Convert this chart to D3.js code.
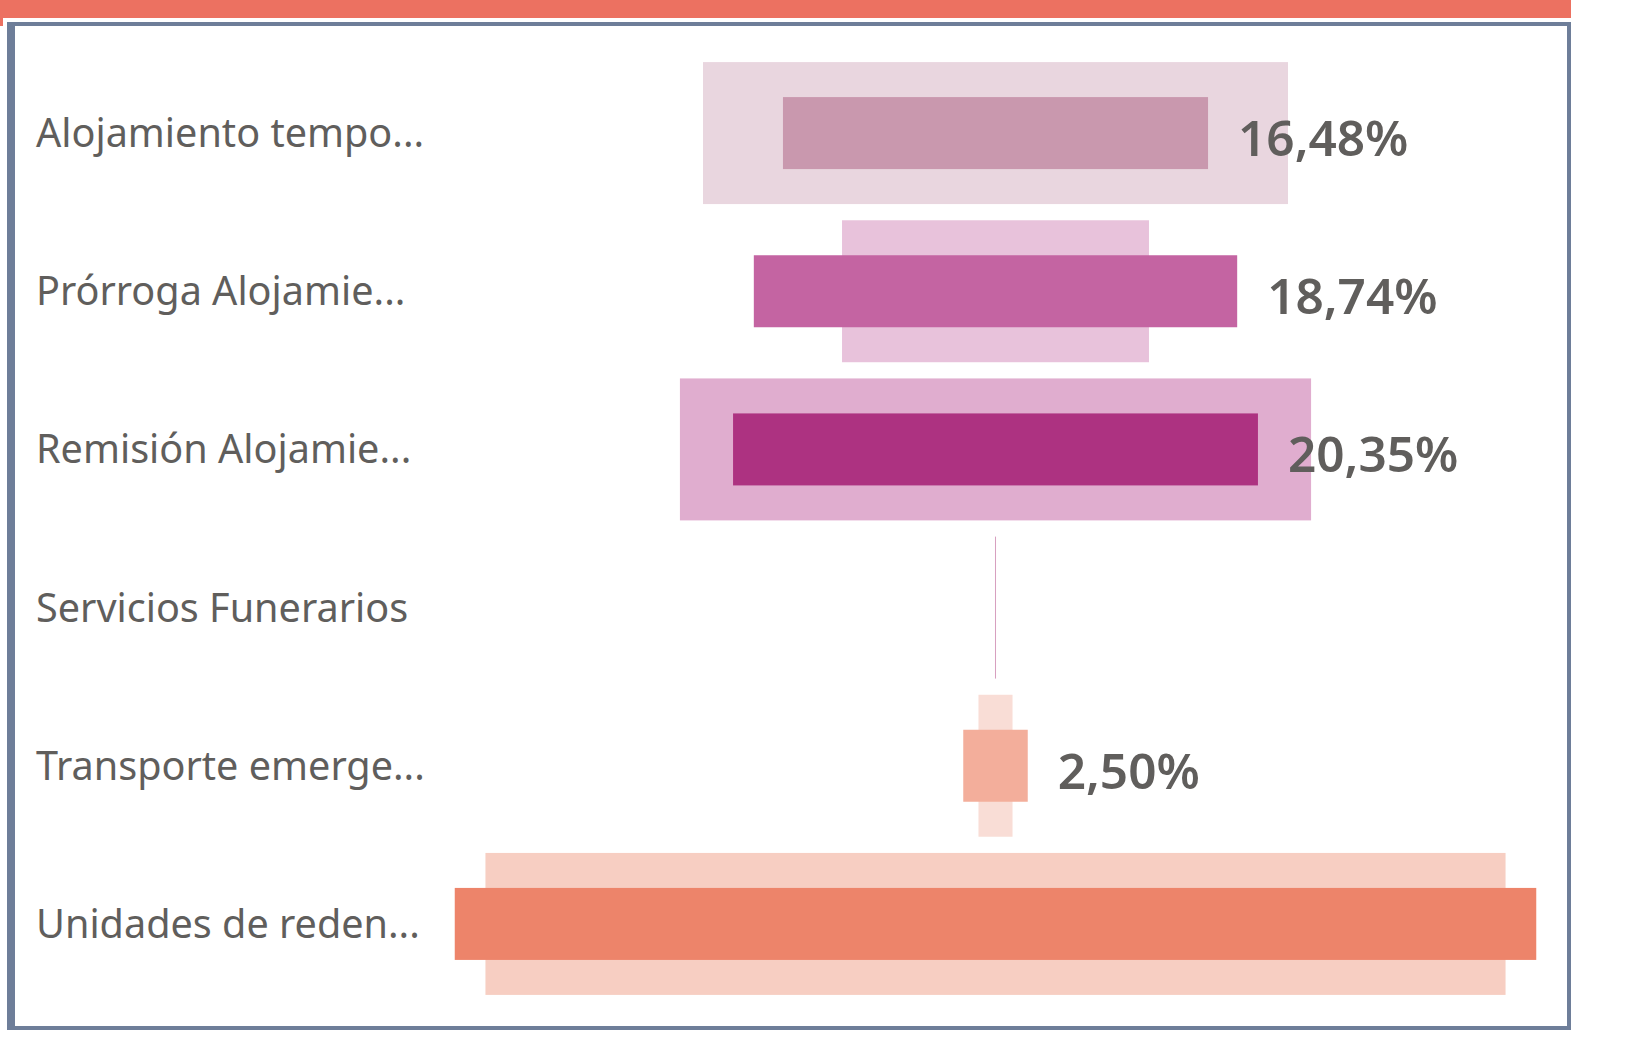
<!DOCTYPE html>
<html lang="es">
<head>
<meta charset="utf-8">
<title>Distribución por tipo de ayuda</title>
<script src="https://cdn.jsdelivr.net/npm/d3@7"></script>
<style>
  html, body { margin: 0; padding: 0; background: #ffffff; }
  svg { display: block; }
  .cat-label { font-family: "Segoe UI", "Noto Sans", sans-serif; font-size: 39.6px; fill: #605e5c; }
  .val-label { font-family: "Segoe UI", "Noto Sans", sans-serif; font-size: 49.5px; font-weight: 600; fill: #605e5c; }
</style>
</head>
<body>
<svg id="chart" width="1650" height="1038"></svg>
<script>
// Categories (as shown, truncated)
const categories = [
  "Alojamiento tempo...",
  "Prórroga Alojamie...",
  "Remisión Alojamie...",
  "Servicios Funerarios",
  "Transporte emerge...",
  "Unidades de reden..."
];
// Main measure (%), inner bars
const shareValues = [16.48, 18.74, 20.35, 0, 2.50, 41.93];
// Comparison measure (%), wide background bars
const compareValues = [22.68, 11.90, 24.47, 0.04, 1.32, 39.55];

const innerColors = ["#c998ae", "#c464a2", "#ad3281", "#c77aa8", "#f3ae9b", "#ed846a"];
const outerColors = ["#e9d6df", "#e8c2db", "#e0adcf", "#d7a0c0", "#f9ddd6", "#f7cec2"];

const svg = d3.select("#chart");

// Header strip and frame
svg.append("rect").attr("x", 0).attr("y", 0).attr("width", 1571).attr("height", 18).attr("fill", "#ec7161");
svg.append("rect").attr("x", 0).attr("y", 18).attr("width", 3).attr("height", 8).attr("fill", "#ec7161");

const frameColor = "#6e7e99";
svg.append("rect").attr("x", 7).attr("y", 22).attr("width", 1564).attr("height", 4).attr("fill", frameColor);   // top
svg.append("rect").attr("x", 7).attr("y", 1026).attr("width", 1564).attr("height", 4).attr("fill", frameColor); // bottom
svg.append("rect").attr("x", 7).attr("y", 22).attr("width", 8).attr("height", 1008).attr("fill", frameColor);   // left
svg.append("rect").attr("x", 1567).attr("y", 22).attr("width", 4).attr("height", 1008).attr("fill", frameColor); // right

// Scales
const centerX = 995.5;
const y = d3.scaleBand()
  .domain(categories)
  .range([54, 1003])
  .paddingInner(0.1024)
  .paddingOuter(0.0512);

const maxVal = d3.max(shareValues.concat(compareValues));
const x = d3.scaleLinear().domain([0, maxVal]).range([0, 1081.5]);

const innerH = 72;
const rows = categories.map((c, i) => ({
  cat: c, share: shareValues[i], compare: compareValues[i],
  inner: innerColors[i], outer: outerColors[i]
}));

const g = svg.append("g");

// Background (comparison) bars
g.selectAll("rect.outer").data(rows).join("rect")
  .attr("class", "outer")
  .attr("x", d => centerX - x(d.compare) / 2)
  .attr("y", d => y(d.cat))
  .attr("width", d => x(d.compare))
  .attr("height", y.bandwidth())
  .attr("fill", d => d.outer);

// Main bars
g.selectAll("rect.inner").data(rows.filter(d => d.share > 0)).join("rect")
  .attr("class", "inner")
  .attr("x", d => centerX - x(d.share) / 2)
  .attr("y", d => y(d.cat) + (y.bandwidth() - innerH) / 2)
  .attr("width", d => x(d.share))
  .attr("height", innerH)
  .attr("fill", d => d.inner);

// Category labels
g.selectAll("text.cat-label").data(rows).join("text")
  .attr("class", "cat-label")
  .attr("x", 36)
  .attr("y", d => y(d.cat) + y.bandwidth() / 2 + 14)
  .text(d => d.cat);

// Value labels, shown only where they fit inside the frame
const fmt = v => d3.format(".2f")(v).replace(".", ",") + "%";
const frameRight = 1567;
const labelGap = 30;
g.selectAll("text.val-label")
  .data(rows.filter(d => d.share > 0 && centerX + x(d.share) / 2 + labelGap + 150 < frameRight))
  .join("text")
  .attr("class", "val-label")
  .attr("x", d => centerX + x(d.share) / 2 + labelGap)
  .attr("y", d => y(d.cat) + y.bandwidth() / 2 + 23)
  .text(d => fmt(d.share));
</script>
</body>
</html>
